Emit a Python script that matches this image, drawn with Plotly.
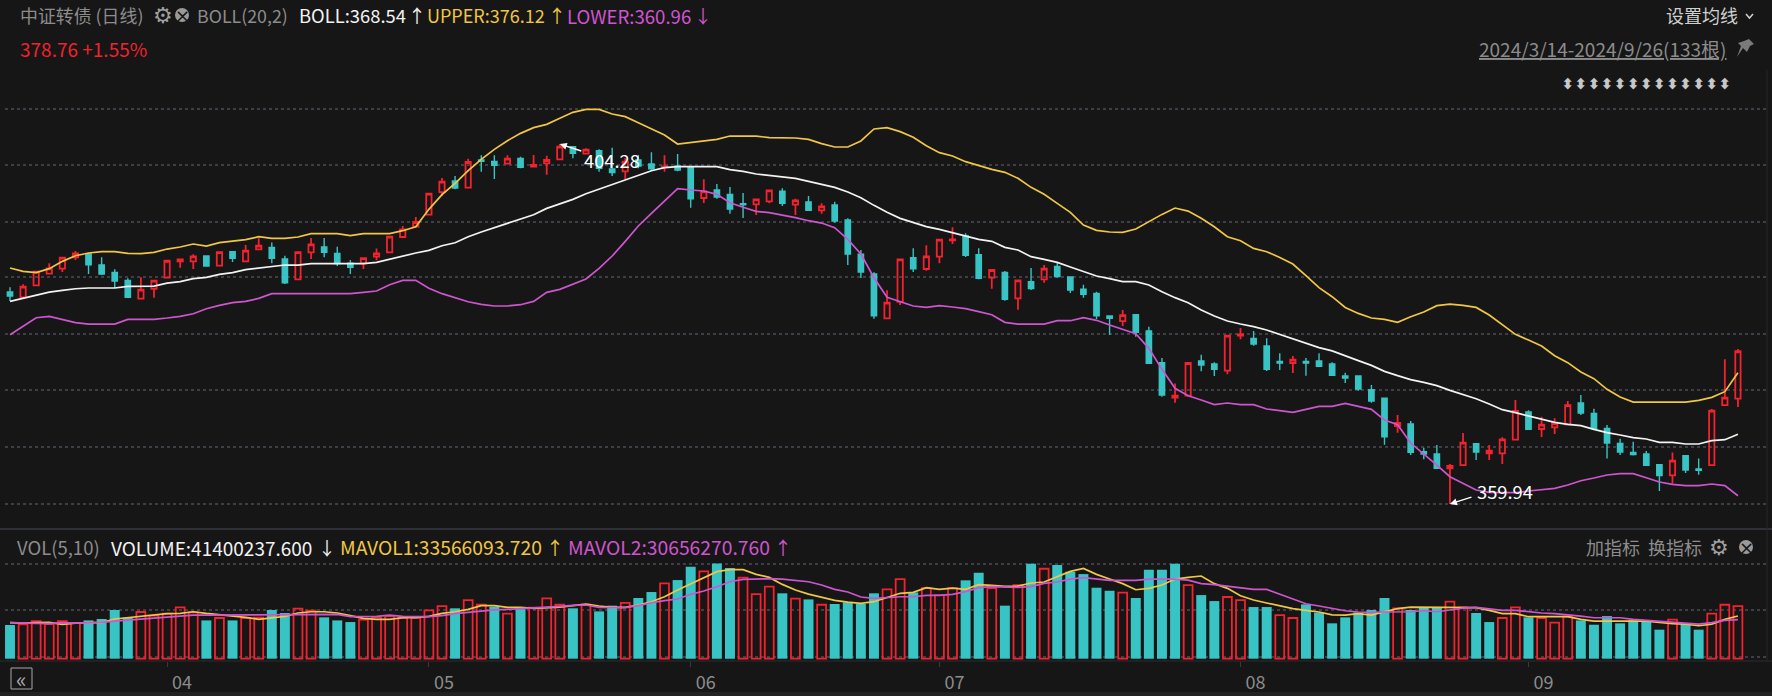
import plotly.graph_objects as go

W, H = 1772, 696
BG = "#161616"
RED = "#F2222E"
TEAL = "#38C4C4"
WHITE = "#F2F2F2"
YELLOW = "#F0C644"
PURPLE = "#CF55CF"
GREY = "#8C8C8C"
FONT = "Noto Sans CJK SC"

open_px = [386.05,385.40,386.87,388.31,388.93,390.33,390.74,389.38,388.48,387.49,
385.23,386.46,387.82,389.83,389.83,390.49,389.30,391.02,389.83,391.31,
391.56,390.12,387.61,390.94,391.60,390.82,389.59,389.59,390.41,390.94,
392.83,394.10,395.58,398.37,399.73,398.91,402.32,402.15,401.87,402.52,
401.50,401.91,402.40,403.96,403.10,403.47,401.21,400.92,402.32,401.83,
401.48,401.58,401.50,397.64,398.62,398.09,396.94,396.86,397.22,398.46,
396.81,397.14,396.12,396.77,394.93,390.70,388.27,382.81,384.83,390.29,
388.89,390.41,392.42,392.96,390.66,387.82,388.48,385.28,387.33,387.62,
389.22,387.91,386.39,385.89,383.10,382.48,383.26,381.25,377.35,373.04,
373.28,377.56,377.19,376.36,380.68,380.35,379.40,377.51,377.31,377.51,
377.56,377.19,375.71,375.71,374.02,372.96,369.55,369.79,366.39,366.10,
364.33,364.74,367.37,366.18,366.18,367.86,371.27,369.18,369.38,369.75,
372.38,371.11,369.26,367.41,366.30,366.10,364.78,363.47,365.89,364.25,
364.74,372.13,372.91]
high_px = [386.63,387.00,388.64,389.59,390.41,391.11,390.90,390.33,388.85,387.74,
387.86,387.53,390.00,390.16,390.70,390.57,391.06,391.11,391.85,392.67,
392.17,390.53,391.02,392.71,392.71,391.64,390.00,390.28,391.43,392.91,
394.19,395.29,398.21,400.10,400.35,402.48,402.89,402.89,402.89,402.73,
402.93,402.85,404.28,404.04,403.76,403.63,403.84,402.52,402.93,403.26,
402.89,403.06,401.58,399.94,399.36,398.99,398.25,397.55,398.62,398.83,
397.55,397.88,396.98,397.18,395.13,391.23,388.48,386.26,390.12,391.44,
391.81,392.55,394.02,393.29,391.44,388.85,388.64,387.54,389.01,389.38,
389.67,387.95,386.96,386.10,383.14,383.84,383.35,381.79,377.93,374.80,
377.35,378.34,377.39,380.72,381.62,381.25,380.35,378.50,378.17,377.93,
378.50,377.39,376.12,375.79,374.60,373.00,370.90,370.16,366.88,367.21,
364.87,368.69,367.41,367.21,368.15,372.75,371.48,370.70,370.49,372.63,
373.37,371.68,369.67,367.99,367.62,366.47,364.87,366.30,365.93,365.56,
371.64,377.76,379.03]
low_px = [384.94,385.40,386.87,388.23,388.52,390.00,388.27,388.15,386.51,385.36,
385.19,385.36,387.78,389.05,388.89,389.22,389.26,389.75,389.79,391.27,
389.59,387.04,387.57,390.12,390.33,389.26,388.27,388.89,389.96,390.90,
392.79,394.06,395.54,397.88,398.70,398.87,400.88,399.98,401.83,401.29,
401.46,400.51,402.36,402.52,403.02,400.88,400.35,399.98,401.29,401.00,
400.88,400.92,396.44,397.02,397.55,395.71,395.17,395.54,396.98,396.65,
395.54,396.08,395.71,394.60,389.38,387.78,382.77,382.77,384.46,388.52,
388.69,389.59,391.97,390.37,387.62,386.47,384.99,383.88,386.30,387.21,
387.82,385.93,385.36,382.73,380.76,381.87,380.55,377.23,373.16,372.42,
373.24,376.28,375.71,375.91,380.23,379.44,376.32,376.45,376.08,375.75,
376.82,375.75,374.85,373.90,372.42,367.25,368.73,365.97,365.44,364.25,
359.94,364.70,365.36,365.36,364.87,367.82,369.05,368.19,368.56,369.71,
370.90,369.18,365.56,365.97,365.93,364.66,361.54,362.44,363.76,363.55,
364.70,372.09,371.89]
close_px = [385.56,386.71,388.56,388.97,390.28,390.82,389.42,388.27,387.41,385.40,
386.34,387.45,389.91,390.08,390.45,389.26,390.98,390.20,391.15,391.76,
390.20,387.20,390.98,391.93,390.94,389.55,389.09,390.24,390.82,392.87,
393.78,394.68,398.17,399.65,398.87,402.07,402.15,401.66,402.48,401.41,
401.70,402.32,403.96,403.14,403.59,401.29,400.76,402.11,401.58,401.25,
401.52,401.09,397.55,398.46,397.76,396.28,396.81,397.47,398.58,396.98,
397.35,396.12,396.61,394.80,390.74,388.52,383.14,384.74,390.08,388.93,
390.45,392.51,392.55,390.57,387.74,388.77,385.15,387.49,386.47,388.93,
387.95,386.30,385.77,383.14,382.81,383.22,381.09,377.27,373.37,373.28,
377.31,377.06,376.53,380.68,380.84,379.65,376.53,377.31,377.72,377.31,
376.90,375.79,375.46,374.11,372.63,368.23,369.92,366.30,366.10,364.33,
364.62,367.49,366.34,366.51,367.90,371.40,369.14,369.71,369.92,372.13,
371.15,369.22,367.45,366.34,366.02,364.70,363.43,365.28,364.13,364.09,
371.44,373.04,378.76]

boll_upper = [389.01,388.60,388.44,388.93,389.83,390.53,390.86,391.02,391.02,390.82,
390.78,390.94,391.35,391.60,391.97,391.72,392.13,392.30,392.50,392.87,
392.67,392.67,392.83,393.24,393.24,393.24,393.00,393.24,393.24,393.24,
393.61,394.10,396.24,398.05,399.44,401.00,402.40,403.63,404.70,405.60,
406.30,406.71,407.45,408.19,408.56,408.56,407.99,407.66,406.92,406.14,
405.40,404.29,404.49,404.70,404.86,405.27,405.27,405.27,405.07,405.07,
405.03,404.86,404.33,403.92,403.92,404.66,406.14,406.30,405.81,405.11,
404.08,403.22,402.81,402.11,401.62,401.17,400.80,400.06,398.95,398.09,
396.98,395.87,394.31,393.65,393.45,393.40,393.82,394.72,395.62,396.40,
396.03,395.13,394.10,392.87,392.38,391.43,391.02,390.32,389.50,388.07,
386.59,385.48,384.16,383.42,382.85,382.69,382.32,383.01,383.59,384.37,
384.57,384.41,384.16,383.22,381.99,380.84,380.14,379.40,378.21,377.35,
376.20,375.38,374.07,373.12,372.50,372.50,372.50,372.50,372.50,372.71,
373.08,373.78,376.12]
boll_mid = [384.90,385.27,385.68,386.05,386.26,386.46,386.55,386.55,386.55,386.75,
386.75,386.79,387.16,387.33,387.70,387.86,388.23,388.44,388.81,389.01,
389.22,389.38,389.38,389.55,389.55,389.55,389.55,389.55,389.71,390.12,
390.49,390.86,391.19,391.76,392.13,392.87,393.45,393.98,394.51,395.09,
395.58,396.36,396.94,397.47,398.17,398.74,399.28,399.81,400.43,401.00,
401.37,401.50,401.50,401.50,401.50,401.13,400.92,400.59,400.43,400.22,
400.06,399.69,399.32,398.95,398.37,397.68,396.73,395.87,395.13,394.64,
394.11,393.78,393.37,392.96,392.55,392.30,391.56,391.23,390.41,390.08,
389.71,389.14,388.60,388.03,387.70,387.33,387.33,386.92,386.10,385.36,
384.74,383.84,383.10,382.48,382.11,381.79,381.37,380.84,380.27,379.73,
379.20,378.80,378.17,377.60,377.02,376.28,375.75,375.26,374.93,374.52,
373.94,373.41,372.91,372.26,371.56,371.19,370.82,370.45,370.00,369.75,
369.59,369.14,368.73,368.44,368.11,367.95,367.53,367.53,367.33,367.33,
367.74,367.86,368.54]
boll_lower = [380.80,381.87,382.89,383.06,382.65,382.28,382.11,382.11,382.11,382.69,
382.69,382.69,382.85,383.06,383.38,384.00,384.41,384.74,384.90,385.27,
385.85,385.85,385.85,385.85,385.85,385.85,385.85,386.01,386.18,386.96,
387.49,387.49,386.51,385.85,385.40,384.86,384.53,384.33,384.33,384.49,
384.90,386.01,386.38,387.00,387.66,388.97,390.49,392.30,394.19,395.75,
397.22,398.78,398.62,398.50,398.09,397.06,396.49,396.00,395.83,395.54,
395.21,394.84,394.55,393.98,392.54,390.74,387.82,385.40,384.87,384.33,
384.17,384.37,384.21,384.00,383.63,383.26,382.32,382.11,382.11,382.11,
382.52,382.52,382.89,382.57,381.99,381.46,380.92,379.12,376.53,374.19,
373.28,372.75,372.18,372.38,372.18,372.18,371.64,371.44,371.23,371.60,
371.97,371.97,372.34,371.97,371.60,370.29,369.71,367.45,366.14,364.74,
363.30,362.44,361.66,361.37,361.33,361.33,361.54,361.66,361.87,362.28,
362.81,363.14,363.51,363.67,363.67,363.18,362.65,362.36,362.20,362.20,
362.40,362.20,360.96]

# volumes, millions
volume_m = [26.5,27.0,29.6,27.2,29.6,28.0,30.1,31.2,38.3,32.2,
36.7,33.8,35.4,40.3,36.4,30.1,32.0,30.1,32.0,32.2,
38.3,35.9,39.3,37.7,32.5,30.1,28.8,30.7,32.5,33.5,
32.2,32.2,38.0,41.4,39.6,46.1,42.4,40.9,35.4,39.0,
40.1,47.4,42.4,39.6,42.4,37.2,41.7,43.8,47.7,52.4,
59.2,61.8,72.3,68.6,74.9,71.3,63.7,50.8,56.6,51.4,
47.2,46.6,42.4,43.0,44.3,43.0,51.4,54.5,62.6,52.1,
55.5,50.0,55.5,61.6,67.6,55.5,41.7,57.9,74.7,70.7,
73.6,68.4,66.5,55.8,53.4,51.9,47.7,70.0,70.0,74.7,
57.9,50.0,45.3,48.5,46.1,40.6,40.6,34.3,32.0,42.7,
36.2,27.8,32.5,36.4,38.3,47.7,39.6,38.3,40.1,40.1,
44.8,40.3,35.9,28.8,32.0,40.3,32.5,32.0,28.3,33.0,
30.1,26.7,33.5,27.8,30.1,29.6,22.8,30.7,27.8,22.8,
35.4,42.4,41.4]
volume_up = [0,1,1,1,1,1,0,0,0,0,
1,1,1,1,1,0,1,0,1,1,
0,0,1,1,0,0,0,1,1,1,
1,1,1,1,0,1,1,0,1,0,
1,1,1,0,1,0,0,1,0,0,
1,0,0,1,0,0,1,1,1,0,
1,0,1,0,0,0,0,1,1,0,
1,1,1,0,0,1,0,1,0,1,
0,0,0,0,0,1,0,0,0,0,
1,0,0,1,1,0,0,1,1,0,
0,0,0,0,0,0,1,0,0,0,
1,1,0,0,1,1,0,1,1,1,
0,0,0,0,0,0,0,1,0,0,
1,1,1]
mavol1_m = [28.3,28.0,28.3,28.6,27.0,28.0,28.3,28.3,31.2,32.2,
33.5,34.3,35.4,35.6,36.9,35.6,34.6,33.8,32.5,30.9,
32.2,33.3,35.9,36.9,36.9,35.9,33.8,31.7,30.9,30.9,
32.2,32.2,33.3,35.6,36.9,38.8,41.7,41.7,40.3,40.3,
39.6,40.1,40.6,41.7,43.0,41.4,40.3,40.3,42.2,44.8,
48.7,54.0,58.7,63.7,68.4,70.0,70.0,66.3,63.9,58.4,
54.0,50.8,48.2,45.9,44.5,43.5,44.8,47.9,51.4,52.1,
55.8,54.5,55.5,54.5,58.2,57.6,56.9,57.1,59.5,60.3,
64.5,68.6,71.0,66.3,62.6,59.0,54.2,55.3,57.9,62.6,
63.9,65.0,59.0,55.3,49.5,46.1,43.8,41.7,39.3,38.0,
36.7,34.5,34.3,35.4,34.3,36.9,39.3,40.6,40.6,40.6,
40.6,40.6,40.1,38.0,35.4,35.4,33.0,33.0,33.0,33.0,
30.9,29.6,29.6,29.6,29.6,29.6,28.6,27.5,27.2,25.9,
27.2,30.9,33.57]
mavol2_m = [28.3,27.8,27.8,27.5,28.3,28.0,28.3,28.6,29.6,30.4,
31.2,32.0,32.8,33.3,34.3,34.3,34.3,34.3,34.3,34.3,
34.3,34.3,34.8,34.8,34.8,34.8,33.0,33.0,33.3,34.3,
33.3,33.0,33.0,33.8,35.4,36.4,37.5,38.3,38.8,39.3,
39.8,40.3,41.1,41.9,42.2,40.3,40.1,40.1,41.7,44.0,
45.6,46.9,50.6,53.2,56.6,60.5,62.4,62.9,62.9,62.6,
61.8,60.5,57.9,54.5,52.4,48.5,47.4,48.2,48.7,48.7,
49.8,49.8,50.6,52.7,55.8,56.6,56.1,56.1,56.6,59.2,
60.3,62.6,63.7,62.9,61.6,61.6,61.6,62.6,62.6,62.6,
61.8,59.0,58.2,57.1,55.8,54.5,54.5,50.6,46.9,43.2,
41.4,39.6,37.7,36.7,36.4,36.7,36.7,36.9,37.7,36.9,
38.3,39.8,40.3,39.3,38.0,38.0,36.9,35.9,35.4,34.6,
33.5,32.2,32.2,32.2,30.9,30.1,29.6,28.6,27.8,27.2,
28.3,30.1,30.66]

bar_index = list(range(len(close_px)))
price_grid = [359.94,366.96,373.98,380.85,387.87,394.72,401.71,408.57]
volume_grid = [1.6,38.0,74.4]
month_ticks = [12,32,52,71,94,116]
month_labels = ["04","05","06","07","08","09"]
marker_bars = [119,120,121,122,123,124,125,126,127,128,129,130,131]
marker_level = 411.56
high_bar, high_value = 42, 404.28
low_bar, low_value = 110, 359.94

for s in (open_px, high_px, low_px, boll_upper, boll_mid, boll_lower, volume_m, volume_up, mavol1_m, mavol2_m):
    assert len(s) == 133, len(s)

fig = go.Figure()
fig.add_trace(go.Candlestick(
    x=bar_index, open=open_px, high=high_px, low=low_px, close=close_px,
    xaxis="x", yaxis="y", whiskerwidth=0, hoverinfo="skip", showlegend=False,
    increasing=dict(line=dict(color=RED, width=1.8), fillcolor="rgba(0,0,0,0)"),
    decreasing=dict(line=dict(color=TEAL, width=1.4), fillcolor=TEAL)))
for vals, col in ((boll_mid, WHITE), (boll_upper, YELLOW), (boll_lower, PURPLE)):
    fig.add_trace(go.Scatter(x=bar_index, y=vals, mode="lines", xaxis="x", yaxis="y",
                             line=dict(color=col, width=1.7), hoverinfo="skip", showlegend=False))
fig.add_trace(go.Scatter(x=marker_bars, y=[marker_level]*len(marker_bars), mode="text",
                         text=["⬍"]*len(marker_bars), xaxis="x", yaxis="y",
                         textfont=dict(family="DejaVu Sans", size=15, color="#C8C8C8", weight="bold"),
                         hoverinfo="skip", showlegend=False))

dn_x = [i for i in bar_index if not volume_up[i]]
up_x = [i for i in bar_index if volume_up[i]]
fig.add_trace(go.Bar(x=dn_x, y=[volume_m[i] for i in dn_x], xaxis="x2", yaxis="y2", width=0.76,
                     marker=dict(color=TEAL, line=dict(width=0)), hoverinfo="skip", showlegend=False))
fig.add_trace(go.Bar(x=up_x, y=[volume_m[i] for i in up_x], xaxis="x2", yaxis="y2", width=0.68,
                     marker=dict(color="rgba(0,0,0,0)", line=dict(color=RED, width=1.8)),
                     hoverinfo="skip", showlegend=False))
for vals, col in ((mavol1_m, YELLOW), (mavol2_m, PURPLE)):
    fig.add_trace(go.Scatter(x=bar_index, y=vals, mode="lines", xaxis="x2", yaxis="y2",
                             line=dict(color=col, width=1.7), hoverinfo="skip", showlegend=False))

def px(x): return x / W
def py(y): return 1 - y / H

ann = []
def label(x, y, text, color, size=18, anchor="left", fam=FONT, **kw):
    font = dict(family=fam, size=size, color=color)
    font.update(kw.pop("fontx", {}))
    if anchor == "left":
        x -= 2
    elif anchor == "right":
        x += 2
    ann.append(dict(x=px(x), y=py(y), xref="paper", yref="paper", text=text, showarrow=False,
                    xanchor=anchor, yanchor="middle", font=font, **kw))

label(20, 15, "中证转债 (日线)", GREY, size=17.9)
label(197, 15, "BOLL(20,2)", GREY, size=17.8)
label(299, 15, "BOLL:368.54", WHITE, size=18.4)
label(417, 15, "↑", WHITE, anchor="center")
label(427, 15, "UPPER:376.12", YELLOW, size=18)
label(557, 15, "↑", YELLOW, anchor="center")
label(567, 15, "LOWER:360.96", PURPLE, size=18.6)
label(703, 15, "↓", PURPLE, anchor="center")
label(20, 48, "378.76 +1.55%", RED, size=19)
label(1738, 15, "设置均线", "#D0D0D0", size=18, anchor="right")
label(1727, 48, "2024/3/14-2024/9/26(133根)", GREY, size=19, anchor="right", fontx=dict(lineposition="under"))
label(17, 547, "VOL(5,10)", GREY, size=18.5)
label(111, 547, "VOLUME:41400237.600", WHITE, size=19)
label(327, 547, "↓", WHITE, anchor="center")
label(340, 547, "MAVOL1:33566093.720", YELLOW, size=19.3)
label(555, 547, "↑", YELLOW, anchor="center")
label(568, 547, "MAVOL2:30656270.760", PURPLE, size=19.3)
label(783, 547, "↑", PURPLE, anchor="center")
label(1586, 547, "加指标", GREY)
label(1648, 547, "换指标", GREY)
label(21.5, 678, "«", "#A8A8A8", size=22, anchor="center")

# gear icons + close icons
for gx, cx, yy in ((163, 182, 15), (1719, 1746, 547)):
    label(gx, yy, "⚙", "#A0A0A0", size=22, anchor="center", fam="DejaVu Sans")
    label(cx, yy, "×", BG, size=18, anchor="center", fam="DejaVu Sans")

# peak and trough labels
ann.append(dict(x=high_bar, y=high_value, xref="x", yref="y", text=f"{high_value:.2f}", showarrow=False,
                xshift=52, yshift=-16, font=dict(family=FONT, size=18.3, color="white")))
ann.append(dict(x=high_bar, y=high_value, xref="x", yref="y", text=" ", showarrow=True, ax=25, ay=8,
                arrowhead=2, arrowsize=1, arrowwidth=1.4, arrowcolor="white"))
ann.append(dict(x=low_bar, y=low_value, xref="x", yref="y", text=f"{low_value:.2f}", showarrow=False,
                xshift=55, yshift=13, font=dict(family=FONT, size=18.3, color="white")))
ann.append(dict(x=low_bar, y=low_value, xref="x", yref="y", text=" ", showarrow=True, ax=25, ay=-8,
                arrowhead=2, arrowsize=1, arrowwidth=1.4, arrowcolor="white"))

def hline(y, x0=0, x1=W, color="#2C2C30", width=1):
    return dict(type="line", xref="paper", yref="paper", x0=px(x0), x1=px(x1), y0=py(y), y1=py(y),
                line=dict(color=color, width=width), layer="below")
shapes = [
    hline(529, color="#3A3A44", width=1.5),
    hline(661),
    dict(type="line", xref="paper", yref="paper", x0=px(1767), x1=px(1767), y0=py(70), y1=py(661),
         line=dict(color="#26262A", width=1), layer="below"),
    dict(type="rect", xref="paper", yref="paper", x0=0, x1=1, y0=0, y1=py(692), fillcolor="#222222",
         line=dict(width=0), layer="below"),
    dict(type="rect", xref="paper", yref="paper", x0=px(11), x1=px(32), y0=py(689), y1=py(668),
         line=dict(color="#A8A8A8", width=1), fillcolor="rgba(0,0,0,0)"),
]
for cx, yy in ((182, 15), (1746, 547)):
    shapes.append(dict(type="circle", xref="paper", yref="paper", x0=px(cx-7), x1=px(cx+7),
                       y0=py(yy+7), y1=py(yy-7), fillcolor="#9A9A9A", line=dict(width=0), layer="below"))
# chevron and pin glyphs
def path_px(points, **kw):
    d = "M " + " L ".join(f"{px(a):.5f},{py(b):.5f}" for a, b in points)
    return dict(type="path", xref="paper", yref="paper", path=d, **kw)
shapes.append(path_px([(1746, 14), (1749.5, 18), (1753, 14)], line=dict(color="#D0D0D0", width=1.5)))
shapes.append(path_px([(1749, 39), (1754, 44), (1750, 46), (1747, 52), (1743, 48), (1737, 57), (1741, 46),
                       (1738, 43), (1744, 41)], fillcolor="#7A7A7A", line=dict(width=0)))

axis_common = dict(range=[-0.382, 134.22], domain=[px(5), px(1767)], showgrid=False, zeroline=False,
                   showline=False)
grid = dict(gridcolor="#3E3F46", griddash="3px,3px", gridwidth=1.6, showticklabels=False,
            zeroline=False, showline=False, ticks="", showgrid=True)

fig.update_layout(
    width=W, height=H, autosize=False, margin=dict(l=0, r=0, t=0, b=0), showlegend=False,
    paper_bgcolor=BG, plot_bgcolor=BG, barmode="overlay", boxgap=0.42,
    font=dict(family=FONT, color=GREY, size=18),
    xaxis=dict(axis_common, anchor="y", showticklabels=False, ticks="", rangeslider=dict(visible=False)),
    xaxis2=dict(axis_common, anchor="y2", tickmode="array", tickvals=month_ticks, ticktext=month_labels,
                ticks="outside", ticklen=5, tickcolor="#3A3A3A", tickwidth=1, ticklabelshift=15,
                ticklabelstandoff=0, tickfont=dict(family=FONT, size=18, color=GREY),
                rangeslider=dict(visible=False)),
    yaxis=dict(grid, domain=[py(526), py(50)], range=[357.23, 415.87], tickmode="array", tickvals=price_grid, anchor="x"),
    yaxis2=dict(grid, domain=[py(661), py(540)], range=[-1.81, 93.3], tickmode="array", tickvals=volume_grid, anchor="x2"),
    annotations=ann, shapes=shapes,
)
fig.write_html("out.html", config=dict(displayModeBar=False),
               post_script="document.body.style.margin='0';document.body.style.background='#161616';document.body.style.overflow='hidden';")
